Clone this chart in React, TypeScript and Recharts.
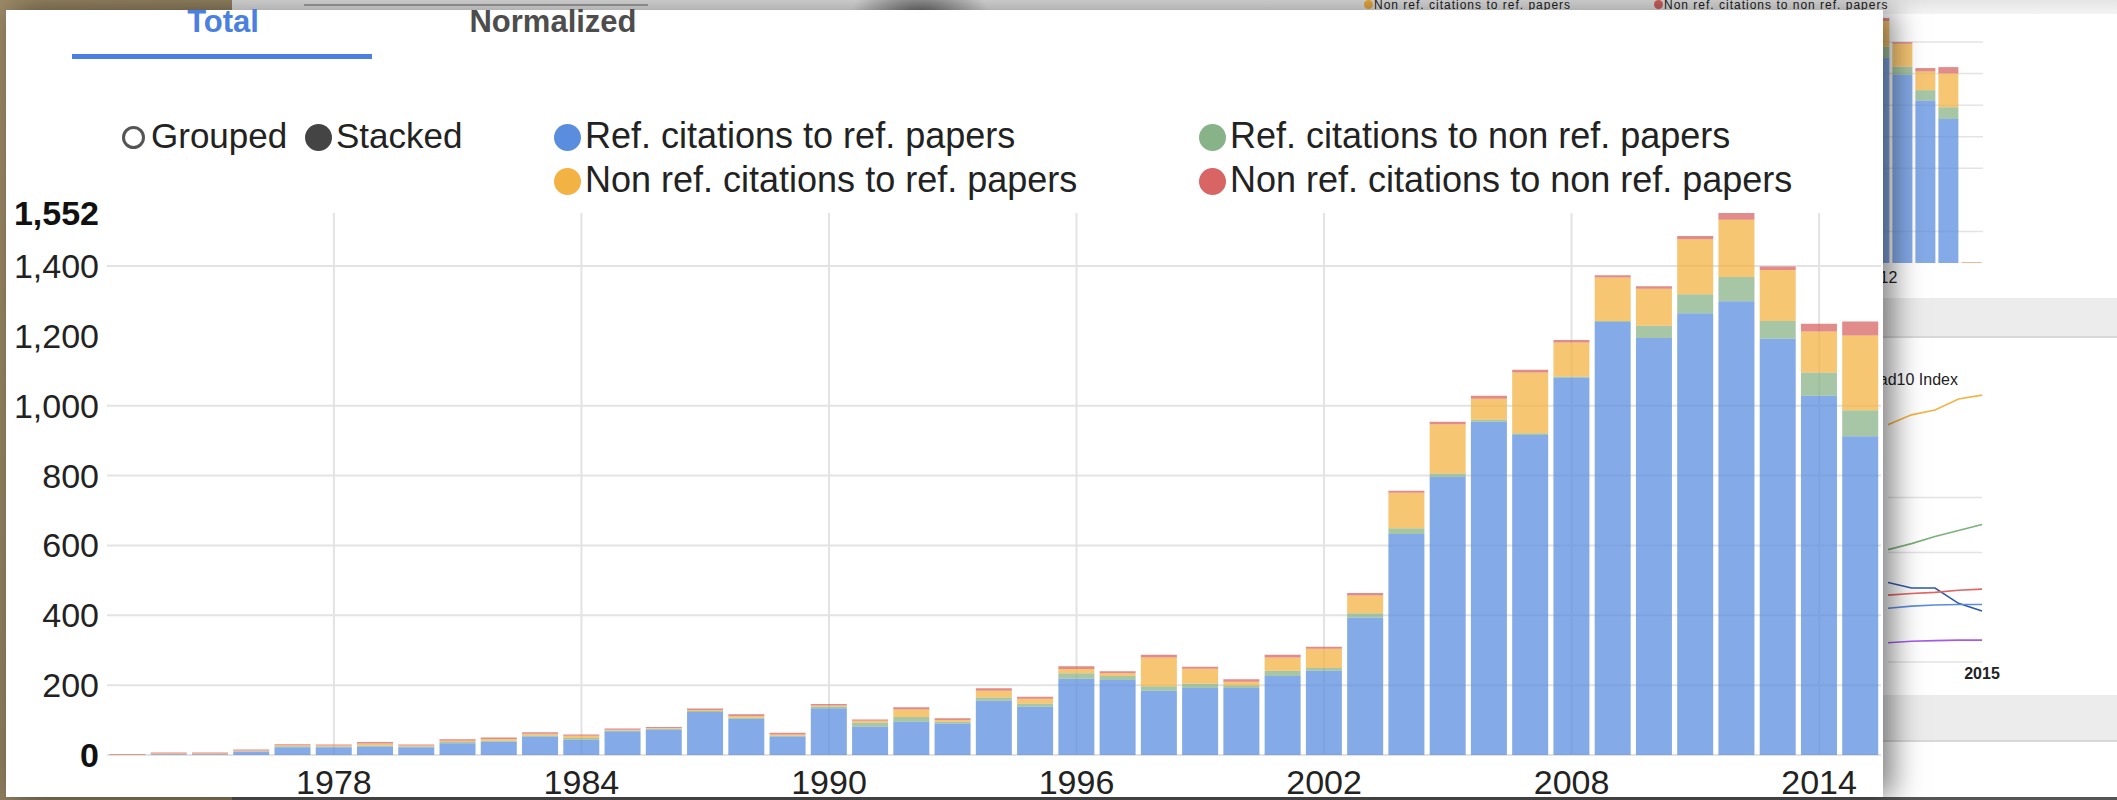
import React from 'react';
import { BarChart, Bar, XAxis, YAxis, CartesianGrid, LineChart, Line } from 'recharts';

// ---------- main chart data ----------
const years = [
  1973, 1974, 1975, 1976, 1977, 1978, 1979, 1980, 1981, 1982, 1983, 1984, 1985, 1986,
  1987, 1988, 1989, 1990, 1991, 1992, 1993, 1994, 1995, 1996, 1997, 1998, 1999, 2000,
  2001, 2002, 2003, 2004, 2005, 2006, 2007, 2008, 2009, 2010, 2011, 2012, 2013, 2014, 2015,
];
const refToRef = [
  0, 2, 2, 10, 22, 22, 24, 22, 34, 38, 53, 44, 68, 73,
  123, 104, 53, 134, 81, 95, 90, 155, 138, 218, 215, 184, 192, 192,
  226, 241, 394, 633, 796, 954, 916, 1080, 1240, 1194, 1265, 1299, 1192, 1029, 913,
];
const refToNonRef = [
  0, 0, 0, 1, 3, 2, 3, 2, 3, 3, 3, 5, 2, 2,
  3, 3, 2, 5, 11, 14, 5, 10, 9, 16, 11, 13, 12, 8,
  15, 8, 12, 16, 10, 6, 5, 4, 3, 35, 54, 70, 51, 66, 74,
];
const nonRefToRef = [
  1, 2, 2, 2, 3, 3, 6, 3, 4, 5, 5, 6, 2, 2,
  3, 5, 4, 3, 6, 21, 5, 19, 14, 12, 8, 82, 43, 10,
  38, 55, 51, 102, 141, 60, 174, 97, 124, 106, 158, 164, 146, 118, 214,
];
const nonRefToNonRef = [
  2, 3, 3, 3, 3, 3, 4, 3, 4, 4, 4, 4, 4, 3,
  4, 5, 5, 4, 4, 7, 5, 7, 6, 8, 6, 8, 6, 7,
  8, 6, 7, 6, 7, 9, 8, 7, 7, 7, 9, 19, 10, 22, 40,
];

const seriesKeys = ['refRef', 'refNonRef', 'nonRefRef', 'nonRefNonRef'];
const seriesNames = [
  'Ref. citations to ref. papers',
  'Ref. citations to non ref. papers',
  'Non ref. citations to ref. papers',
  'Non ref. citations to non ref. papers',
];
const seriesColors = ['#5b8ddf', '#88b388', '#f3b344', '#d86464'];

const yMax = 1552;
const yTicks = [0, 200, 400, 600, 800, 1000, 1200, 1400, 1552];
const gridYValues = [0, 200, 400, 600, 800, 1000, 1400];
const xTickYears = [1978, 1984, 1990, 1996, 2002, 2008, 2014];

const tabLabels = ['Total', 'Normalized'];
const modeLabels = ['Grouped', 'Stacked'];

// ---------- background window (partly hidden) ----------
const bgExtraYear = 2016;
const bgExtraValues = [0, 0, 3, 3];
const bgGridValues = [200, 600, 800, 1000, 1200, 1400];
const bgTickYears = [2000, 2006, 2012];

const lineYears = [2011, 2012, 2013, 2014, 2015];
const lineOrange = [4.33, 4.51, 4.6, 4.8, 4.87];
const lineGreen = [2.05, 2.16, 2.29, 2.4, 2.51];
const lineDarkBlue = [1.45, 1.35, 1.35, 1.07, 0.93];
const lineRed = [1.22, 1.25, 1.27, 1.31, 1.33];
const lineLightBlue = [0.98, 1.02, 1.04, 1.05, 1.05];
const linePurple = [0.35, 0.38, 0.39, 0.4, 0.4];
const lineColors = ['#f3b344', '#7cb07c', '#2f5aa8', '#e06666', '#5b8ddf', '#a45ce8'];
const lineGridValues = [0, 2, 3];
const lineTickYears = [2015];
const lineTitle = 'Lead10 Index';
const topLegendNames = ['Non ref. citations to ref. papers', 'Non ref. citations to non ref. papers'];

const FONT = '"Liberation Sans", Arial, Helvetica, sans-serif';

const mainData = years.map((year, i) => ({
  year,
  refRef: refToRef[i],
  refNonRef: refToNonRef[i],
  nonRefRef: nonRefToRef[i],
  nonRefNonRef: nonRefToNonRef[i],
}));

const bgData = [
  ...mainData,
  {
    year: bgExtraYear,
    refRef: bgExtraValues[0],
    refNonRef: bgExtraValues[1],
    nonRefRef: bgExtraValues[2],
    nonRefNonRef: bgExtraValues[3],
  },
];

const lineSeries = [lineOrange, lineGreen, lineDarkBlue, lineRed, lineLightBlue, linePurple];
const lineData = lineYears.map((year, i) => {
  const row: any = { year };
  lineSeries.forEach((s, j) => {
    row['l' + j] = s[i];
  });
  return row;
});

const XTick = (props: any) => {
  const { x, y, payload } = props;
  if (!xTickYears.includes(payload.value)) return <g />;
  return (
    <text x={x} y={y + 27} textAnchor="middle" dominantBaseline="central" fontSize={34} fill="#222" fontFamily={FONT}>
      {payload.value}
    </text>
  );
};

const YTick = (props: any) => {
  const { x, y, payload } = props;
  const v = payload.value as number;
  const bold = v === 0 || v === yMax;
  return (
    <text
      x={x}
      y={y}
      textAnchor="end"
      dominantBaseline="central"
      fontSize={34}
      fontWeight={bold ? 700 : 400}
      fill={bold ? '#111' : '#222'}
      fontFamily={FONT}
    >
      {v.toLocaleString('en-US')}
    </text>
  );
};

const BgXTick = (props: any) => {
  const { x, y, payload } = props;
  if (!bgTickYears.includes(payload.value)) return <g />;
  return (
    <text x={x} y={y + 14} textAnchor="middle" dominantBaseline="central" fontSize={16} fill="#222" fontFamily={FONT}>
      {payload.value}
    </text>
  );
};

const LineXTick = (props: any) => {
  const { x, y, payload } = props;
  return (
    <text x={x} y={y + 11} textAnchor="middle" dominantBaseline="central" fontSize={16} fontWeight={700} fill="#222" fontFamily={FONT}>
      {payload.value}
    </text>
  );
};

const Circle = ({ cx, cy, d, color, hollow }: { cx: number; cy: number; d: number; color: string; hollow?: boolean }) => (
  <div
    style={{
      position: 'absolute',
      left: cx - d / 2,
      top: cy - d / 2,
      width: d,
      height: d,
      boxSizing: 'border-box',
      borderRadius: '50%',
      background: hollow ? 'transparent' : color,
      border: hollow ? `3px solid ${color}` : 'none',
    }}
  />
);

const Label = ({ x, cy, text, size }: { x: number; cy: number; text: string; size: number }) => (
  <div
    style={{
      position: 'absolute',
      left: x,
      top: cy - 22,
      height: 44,
      lineHeight: '44px',
      fontSize: size,
      color: '#222',
      whiteSpace: 'nowrap',
    }}
  >
    {text}
  </div>
);

export default function App() {
  const legendPos = [
    { dot: 567, text: 585, cy: 136 },
    { dot: 1212, text: 1230, cy: 136 },
    { dot: 567, text: 585, cy: 180 },
    { dot: 1212, text: 1230, cy: 180 },
  ];
  return (
    <div
      style={{
        position: 'absolute',
        left: 0,
        top: 0,
        width: 2117,
        height: 800,
        overflow: 'hidden',
        fontFamily: FONT,
        background: 'linear-gradient(135deg, #9c8a67 0%, #86765a 50%, #7a6b50 100%)',
      }}
    >
      {/* background window */}
      <div style={{ position: 'absolute', left: 232, top: 0, right: 0, bottom: 0, background: '#fff' }} />
      <div
        style={{
          position: 'absolute',
          left: 232,
          top: 0,
          right: 0,
          height: 14,
          background: 'linear-gradient(180deg, #e4e4e4 0%, #f4f4f4 100%)',
        }}
      />
      <div style={{ position: 'absolute', left: 304, top: 4, width: 344, height: 2, background: '#a8a8a8' }} />
      <div
        style={{
          position: 'absolute',
          left: 850,
          top: -20,
          width: 140,
          height: 70,
          background: 'radial-gradient(ellipse at center, rgba(60,60,60,0.75) 0%, rgba(60,60,60,0) 70%)',
        }}
      />
      <div style={{ position: 'absolute', left: 232, top: 797, right: 0, height: 3, background: '#555' }} />
      {topLegendNames.map((name, i) => (
        <div
          key={name}
          style={{
            position: 'absolute',
            left: i === 0 ? 1364 : 1654,
            top: 0,
            height: 11,
            lineHeight: '11px',
            fontSize: 12,
            letterSpacing: 1,
            color: '#222',
            whiteSpace: 'nowrap',
          }}
        >
          <span
            style={{
              display: 'inline-block',
              width: 9,
              height: 9,
              borderRadius: '50%',
              background: seriesColors[i === 0 ? 2 : 3],
              marginRight: 1,
            }}
          />
          {name}
        </div>
      ))}
      <div style={{ position: 'absolute', left: 232, right: 0, top: 298, height: 38, background: '#ececec', borderBottom: '2px solid #d8d8d8' }} />
      <div style={{ position: 'absolute', left: 232, right: 0, top: 695, height: 45, background: '#ececec', borderBottom: '2px solid #d8d8d8' }} />
      <div style={{ position: 'absolute', left: 971, top: 18 }}>
        <BarChart width={1012} height={275} data={bgData} margin={{ top: 0, right: 0, bottom: 0, left: 0 }} barCategoryGap="6%">
          <CartesianGrid stroke="#e4e4e4" strokeWidth={1.5} vertical={false} horizontalValues={bgGridValues} />
          <XAxis dataKey="year" interval={0} height={30} axisLine={false} tickLine={false} tickSize={0} tickMargin={0} tick={<BgXTick />} />
          <YAxis hide domain={[0, yMax]} />
          {seriesKeys.map((k, i) => (
            <Bar key={k} dataKey={k} stackId="a" fill={seriesColors[i]} fillOpacity={0.75} isAnimationActive={false} />
          ))}
        </BarChart>
      </div>
      <div
        style={{
          position: 'absolute',
          right: 2117 - 1958,
          top: 370,
          height: 20,
          lineHeight: '20px',
          fontSize: 16,
          color: '#222',
          whiteSpace: 'nowrap',
        }}
      >
        {lineTitle}
      </div>
      <div style={{ position: 'absolute', left: 1888, top: 388 }}>
        <LineChart width={134} height={299} data={lineData} margin={{ top: 0, right: 40, bottom: 0, left: 0 }}>
          <CartesianGrid stroke="#e4e4e4" strokeWidth={1.5} vertical={false} horizontalValues={lineGridValues} />
          <XAxis
            dataKey="year"
            type="number"
            domain={[lineYears[0], lineYears[lineYears.length - 1]]}
            ticks={lineTickYears}
            height={25}
            axisLine={false}
            tickLine={false}
            tickSize={0}
            tickMargin={0}
            tick={<LineXTick />}
          />
          <YAxis hide domain={[0, 5]} />
          {lineSeries.map((_, j) => (
            <Line
              key={j}
              dataKey={'l' + j}
              stroke={lineColors[j]}
              strokeWidth={1.6}
              dot={false}
              type="linear"
              isAnimationActive={false}
            />
          ))}
        </LineChart>
      </div>

      {/* main window */}
      <div
        style={{
          position: 'absolute',
          left: 6,
          top: 10,
          width: 1877,
          height: 787,
          background: '#fff',
          boxShadow: '10px 0 28px rgba(0,0,0,0.5)',
        }}
      />
      <div style={{ position: 'absolute', left: 0, top: 0 }}>
        <BarChart width={1883} height={800} data={mainData} margin={{ top: 213, right: 2, bottom: 0, left: 0 }} barCategoryGap="6%">
          <CartesianGrid stroke="#e3e3e3" strokeWidth={2} horizontalValues={gridYValues} verticalValues={xTickYears} />
          <XAxis dataKey="year" interval={0} height={45} axisLine={false} tickLine={false} tickSize={0} tickMargin={0} tick={<XTick />} />
          <YAxis
            width={107}
            domain={[0, yMax]}
            ticks={yTicks}
            interval={0}
            axisLine={false}
            tickLine={false}
            tickSize={0}
            tickMargin={8}
            tick={<YTick />}
          />
          {seriesKeys.map((k, i) => (
            <Bar key={k} dataKey={k} name={seriesNames[i]} stackId="a" fill={seriesColors[i]} fillOpacity={0.75} isAnimationActive={false} />
          ))}
        </BarChart>
      </div>

      {/* tabs */}
      {tabLabels.map((t, i) => (
        <div
          key={t}
          style={{
            position: 'absolute',
            left: i === 0 ? 123 : 453,
            width: 200,
            top: 4,
            height: 36,
            lineHeight: '36px',
            textAlign: 'center',
            fontSize: 31,
            fontWeight: 700,
            color: i === 0 ? '#4a80e0' : '#4d4d4d',
          }}
        >
          {t}
        </div>
      ))}
      <div style={{ position: 'absolute', left: 72, top: 54, width: 300, height: 5, background: '#4a80e0' }} />

      {/* mode switch */}
      <Circle cx={133} cy={137} d={23} color="#555" hollow />
      <Label x={151} cy={136} text={modeLabels[0]} size={35} />
      <Circle cx={318} cy={137} d={27} color="#444" />
      <Label x={336} cy={136} text={modeLabels[1]} size={35} />

      {/* series legend */}
      {seriesNames.map((name, i) => (
        <React.Fragment key={name}>
          <Circle cx={legendPos[i].dot} cy={legendPos[i].cy + 1} d={27} color={seriesColors[i]} />
          <Label x={legendPos[i].text} cy={legendPos[i].cy} text={name} size={36} />
        </React.Fragment>
      ))}
    </div>
  );
}
